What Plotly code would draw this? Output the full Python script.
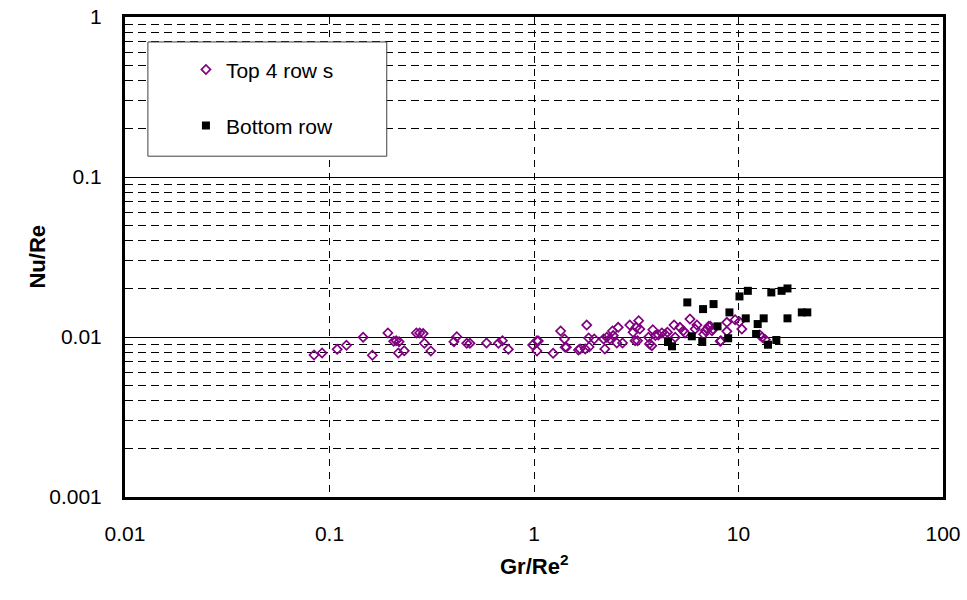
import plotly.graph_objects as go

# Top 4 rows (open purple diamonds)
top_x = [0.084, 0.092, 0.109, 0.121, 0.146, 0.162, 0.193, 0.206, 0.212, 0.219,
         0.217, 0.232, 0.266, 0.276, 0.287, 0.291, 0.313, 0.406, 0.419, 0.469,
         0.486, 0.586, 0.670, 0.701, 0.749, 0.985, 1.034, 1.034, 1.05, 1.24,
         1.35, 1.41, 1.42, 1.44, 1.65, 1.68, 1.81, 1.78, 1.86, 1.85,
         1.97, 2.22, 2.19, 2.27, 2.35, 2.42, 2.44, 2.54, 2.58, 2.71,
         2.94, 3.05, 3.16, 3.25, 3.21, 3.29, 3.12, 3.63, 3.67, 3.77,
         3.81, 3.92, 4.06, 4.22, 4.38, 4.49, 4.84, 4.90, 5.17, 5.37,
         5.48, 5.79, 6.14, 6.26, 6.76, 7.01, 7.28, 7.51, 8.20, 8.77,
         6.89, 7.15, 7.42, 8.14, 8.77, 9.63, 10.11, 10.38, 12.70, 13.05,
         13.53]
top_y = [0.00772, 0.00795, 0.00838, 0.00888, 0.00996, 0.00769, 0.0106, 0.0094, 0.00948, 0.00935,
         0.00795, 0.0082, 0.0106, 0.0106, 0.0105, 0.00913, 0.00818, 0.00935, 0.01004, 0.00913,
         0.00913, 0.00918, 0.00913, 0.00948, 0.00838, 0.00892, 0.00948, 0.00818, 0.00944, 0.00791,
         0.0109, 0.00972, 0.00863, 0.00863, 0.0083, 0.00842, 0.01188, 0.00842, 0.00866, 0.00986,
         0.00972, 0.00842, 0.00972, 0.00996, 0.00972, 0.0109, 0.0102, 0.00918, 0.01149, 0.00918,
         0.01188, 0.0107, 0.01149, 0.01264, 0.00948, 0.01121, 0.00948, 0.00996, 0.00905, 0.00883,
         0.0111, 0.0102, 0.0103, 0.0106, 0.0104, 0.0107, 0.01188, 0.00996, 0.01149, 0.01095,
         0.0106, 0.01295, 0.01121, 0.01188, 0.0104, 0.01121, 0.01166, 0.01121, 0.00948, 0.01235,
         0.01095, 0.01166, 0.01095, 0.0094, 0.01085, 0.01282, 0.01245, 0.01121, 0.0103, 0.00996,
         0.00962]

# Bottom row (filled black squares)
bot_x = [4.52, 4.73, 5.62, 5.91, 6.65, 6.71, 7.55, 7.90, 8.90, 9.03, 10.11, 11.11,
         10.85, 12.19, 12.41, 13.28, 13.94, 14.47, 15.31, 16.24, 17.36, 17.36, 20.40, 21.70]
bot_y = [0.00931, 0.00875, 0.01645, 0.0101, 0.00931, 0.01494, 0.01606, 0.01166, 0.00982, 0.01425, 0.01793, 0.01943,
         0.01308, 0.01044, 0.01205, 0.01308, 0.00895, 0.01899, 0.00958, 0.01943, 0.02011, 0.01308, 0.01425, 0.01425]

x_ticks = [0.01, 0.1, 1, 10, 100]
x_labels = ["0.01", "0.1", "1", "10", "100"]
y_ticks = [0.001, 0.01, 0.1, 1]
y_labels = ["0.001", "0.01", "0.1", "1"]
y_minor = [m * 10.0 ** e for e in (-3, -2, -1) for m in range(2, 10)]

FONT = "Arial, Liberation Sans, sans-serif"

fig = go.Figure()
fig.add_trace(go.Scatter(
    x=top_x, y=top_y, mode="markers", name="Top 4 row s", legend="legend",
    marker=dict(symbol="diamond-open", size=7, color="#800080", line=dict(width=1.7, color="#800080")),
))
fig.add_trace(go.Scatter(
    x=bot_x, y=bot_y, mode="markers", name="Bottom row", legend="legend2",
    marker=dict(symbol="square", size=8, color="black"),
))

axis_common = dict(
    showline=True, mirror=True, linewidth=3, linecolor="black",
    ticks="", ticklabelstandoff=16, zeroline=False, ticklabeloverflow="allow",
    tickfont=dict(family=FONT, size=21, color="black"),
)

fig.update_xaxes(
    type="log", range=[-2, 2], tickmode="array", tickvals=x_ticks, ticktext=x_labels,
    showgrid=True, gridcolor="black", gridwidth=1, griddash="7px,6px",
    **axis_common,
)
fig.update_yaxes(
    type="log", range=[-3, 0], tickmode="array", tickvals=y_ticks, ticktext=y_labels,
    showgrid=True, gridcolor="black", gridwidth=1,
    minor=dict(tickmode="array", tickvals=y_minor, showgrid=True, gridcolor="black",
               gridwidth=1, griddash="8px,5px", ticks=""),
    **axis_common,
)

# legend frame
fig.add_shape(type="rect", xref="paper", yref="paper",
              x0=0.028, x1=0.320, y0=0.710, y1=0.948,
              fillcolor="white", line=dict(color="#404040", width=1), layer="above")

leg = dict(bgcolor="rgba(0,0,0,0)", borderwidth=0, xanchor="left", yanchor="middle",
           font=dict(family=FONT, size=21, color="black"))
fig.update_layout(
    legend=dict(x=0.0745, y=0.890, **leg),
    legend2=dict(x=0.0745, y=0.773, **leg),
    annotations=[
        dict(text="<b>Nu/Re</b>", xref="paper", yref="paper", x=-0.1247, y=0.502,
             textangle=-90, showarrow=False, font=dict(family=FONT, size=22, color="black")),
        dict(text="<b>Gr/Re<sup>2</sup></b>", xref="paper", yref="paper", x=0.5, y=-0.175,
             showarrow=False, font=dict(family=FONT, size=22, color="black")),
    ],
    width=967, height=600,
    margin=dict(l=125, r=24, t=17, b=103, autoexpand=False),
    plot_bgcolor="white", paper_bgcolor="white",
    showlegend=True,
)

# drop the default 8px page margin so the figure sits at the window corner
fig.write_html("out.html", config={"displayModeBar": False},
               post_script="document.body.style.margin='0';")
